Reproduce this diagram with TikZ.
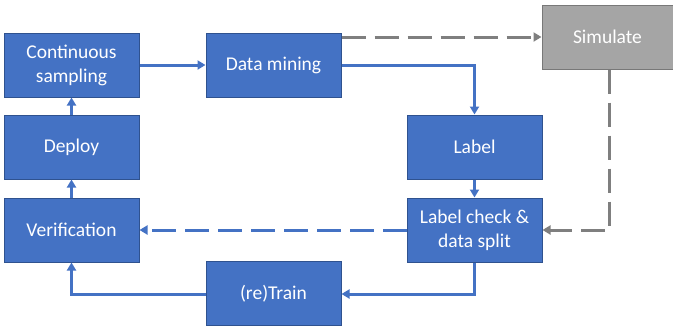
\documentclass[tikz,border=0pt]{standalone}
\usepackage{fontspec}
\setmainfont{Carlito}
\usetikzlibrary{arrows.meta}
\definecolor{boxblue}{HTML}{4472C4}
\definecolor{boxedge}{HTML}{2F528F}
\definecolor{boxgray}{HTML}{A5A5A5}
\definecolor{grayedge}{HTML}{787878}
\definecolor{linegray}{HTML}{7F7F7F}
\begin{document}
\begin{tikzpicture}[x=1pt,y=-1pt,
  bluebox/.style={draw=boxedge,line width=1pt,fill=boxblue,text=white,minimum width=135pt,minimum height=64pt,inner sep=0pt,align=center,font=\fontsize{19.5}{24}\selectfont},
  graybox/.style={bluebox,draw=grayedge,fill=boxgray},
  conn/.style={draw=boxblue,line width=3pt,-{Triangle[length=8pt,width=9pt]}},
  dconn/.style={conn,dash pattern=on 24pt off 9pt},
  gconn/.style={dconn,draw=linegray}]
\useasboundingbox (0,0) rectangle (673,327);
\node[bluebox] (cs) at (71.5,65) {Continuous\\sampling};
\node[bluebox] (dm) at (273.5,65) {Data mining};
\node[graybox,minimum width=131pt] (sim) at (607.5,37) {Simulate};
\node[bluebox] (dep) at (71.5,147) {Deploy};
\node[bluebox] (ver) at (71.5,230) {Verification};
\node[bluebox] (lab) at (474.5,147) {Label};
\node[bluebox] (lc) at (474.5,230) {Label check \&\\data split};
\node[bluebox] (tr) at (273.5,293.5) {(re)Train};
\coordinate (c1) at (474.5,65);
\coordinate (c2) at (609,230);
\coordinate (c3) at (474.5,294);
\coordinate (c4) at (71.5,294);
\draw[conn] (cs.east) -- (dm.east -| dm.west);
\draw[conn] (dm.east) -- (c1) -- (lab.north);
\draw[gconn] (dm.east |- 0,37) -- (sim.west);
\draw[gconn] (sim.south -| c2) -- (c2) -- (lc.east);
\draw[conn] (lab.south) -- (lc.north);
\draw[dconn] (lc.west) -- (ver.east);
\draw[conn] (lc.south) -- (c3) -- (tr.east |- c3);
\draw[conn] (tr.west |- c4) -- (c4) -- (ver.south);
\draw[conn] (ver.north) -- (dep.south);
\draw[conn] (dep.north) -- (cs.south);
\end{tikzpicture}
\end{document}
